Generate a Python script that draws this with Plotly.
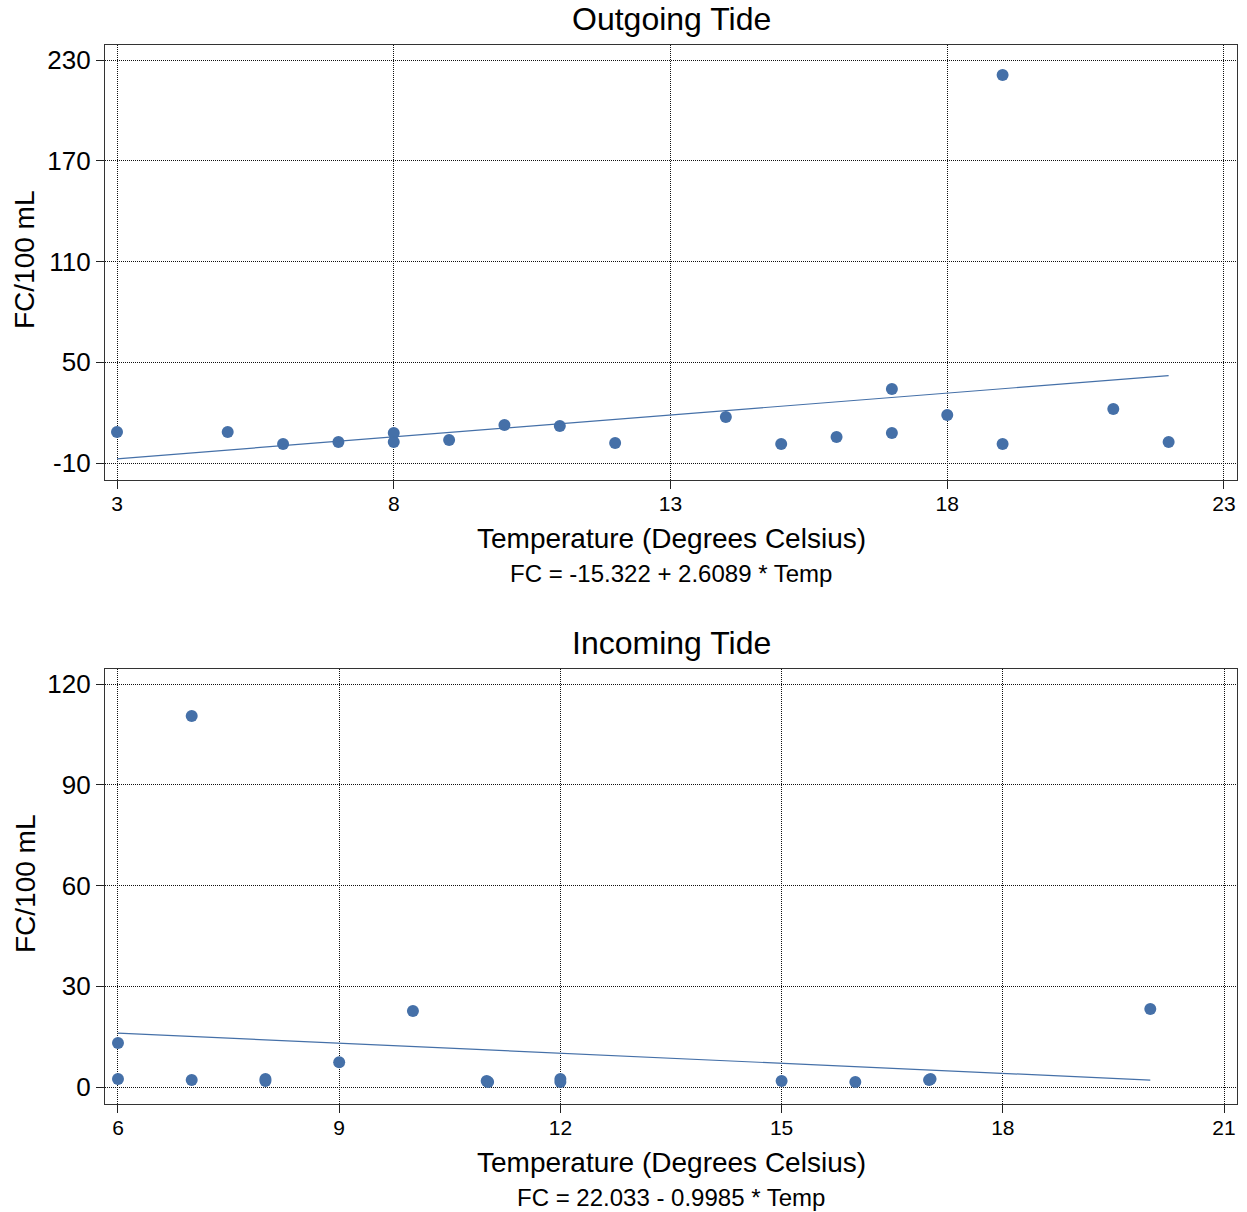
import plotly.graph_objects as go

# ---- Data ----
out_temp = [3, 5, 6, 7, 8, 8, 9, 10, 11, 12, 14, 15, 16, 17, 17, 18, 19, 19, 21, 22]
out_fc = [8.5, 8.5, 1.3, 2.5, 7.9, 2.5, 3.7, 12.6, 12.0, 1.9, 17.4, 1.3, 5.5, 34.1, 7.9, 18.6, 221, 1.3, 22.2, 2.5]
out_coef = (-15.322, 2.6089)
out_eq = "FC = -15.322 + 2.6089 * Temp"

in_temp = [6, 6, 7, 7, 8, 8, 9, 10, 11, 11.02, 12, 12, 15, 16, 17, 17.02, 20]
in_fc = [13.1, 2.4, 2.1, 110.5, 2.4, 1.8, 7.4, 22.6, 1.8, 1.5, 2.4, 1.5, 1.8, 1.5, 2.1, 2.4, 23.2]
in_coef = (22.033, -0.9985)
in_eq = "FC = 22.033 - 0.9985 * Temp"

out_xticks = [3, 8, 13, 18, 23]
out_yticks = [-10, 50, 110, 170, 230]
in_xticks = [6, 9, 12, 15, 18, 21]
in_yticks = [0, 30, 60, 90, 120]

titles = ["Outgoing Tide", "Incoming Tide"]
x_title = "Temperature (Degrees Celsius)"
y_title = "FC/100 mL"

COLOR = "#4570A8"
FONT = "Liberation Sans, Arial, sans-serif"

W, H = 1247, 1212
ML, MR, MT, MB = 105, 10, 45, 108
PW = W - ML - MR
PH = H - MT - MB


def py(pix):
    return (H - MB - pix) / PH


def px(pix):
    return (pix - ML) / PW


fig = go.Figure()

fig.add_trace(go.Scatter(x=out_temp, y=out_fc, mode="markers", xaxis="x", yaxis="y",
                         marker=dict(color=COLOR, size=12), showlegend=False))
fig.add_trace(go.Scatter(x=in_temp, y=in_fc, mode="markers", xaxis="x2", yaxis="y2",
                         marker=dict(color=COLOR, size=12), showlegend=False))

for temps, coef, xa, ya in [(out_temp, out_coef, "x", "y"), (in_temp, in_coef, "x2", "y2")]:
    xs = [min(temps), max(temps)]
    ys = [coef[0] + coef[1] * v for v in xs]
    fig.add_trace(go.Scatter(x=xs, y=ys, mode="lines", xaxis=xa, yaxis=ya,
                             line=dict(color=COLOR, width=1.2), showlegend=False))

axis_common = dict(
    showgrid=True, gridcolor="#111111", griddash="1px,1px", gridwidth=1,
    zeroline=False, showline=True, linecolor="#333333", linewidth=1.3, mirror=True,
    ticks="outside", ticklen=8, tickcolor="#222222", tickwidth=1, tickmode="array",
)


def labels(vals):
    return [str(v) for v in vals]


top_dom = [py(480), py(45)]
bot_dom = [py(1104), py(669)]

fig.update_layout(
    width=W, height=H,
    margin=dict(l=ML, r=MR, t=MT, b=MB),
    paper_bgcolor="white", plot_bgcolor="white",
    font=dict(family=FONT, color="black"),
    xaxis=dict(domain=[0, 1], anchor="y", range=[2.783, 23.235],
               tickvals=out_xticks, ticktext=labels(out_xticks), ticklabelstandoff=-3,
               tickfont=dict(size=21), **axis_common),
    yaxis=dict(domain=top_dom, anchor="x", range=[-20.12, 238.93],
               tickvals=out_yticks, ticktext=labels(out_yticks),
               tickfont=dict(size=26), **axis_common),
    xaxis2=dict(domain=[0, 1], anchor="y2", range=[5.824, 21.176],
                tickvals=in_xticks, ticktext=labels(in_xticks), ticklabelstandoff=-3,
                tickfont=dict(size=21), **axis_common),
    yaxis2=dict(domain=bot_dom, anchor="x2", range=[-5.06, 124.47],
                tickvals=in_yticks, ticktext=labels(in_yticks),
                tickfont=dict(size=26), **axis_common),
)

ann = []
cx = px(671)
for i, (ttl, eq) in enumerate([(titles[0], out_eq), (titles[1], in_eq)]):
    off = 0 if i == 0 else 624
    ann.append(dict(text=ttl, x=cx, y=py(19 + off), xref="paper", yref="paper",
                    showarrow=False, xanchor="center", yanchor="middle", font=dict(size=32)))
    ann.append(dict(text=x_title, x=cx, y=py(538 + off), xref="paper", yref="paper",
                    showarrow=False, xanchor="center", yanchor="middle", font=dict(size=28)))
    ann.append(dict(text=eq, x=cx, y=py(573 + off), xref="paper", yref="paper",
                    showarrow=False, xanchor="center", yanchor="middle", font=dict(size=24)))
    ann.append(dict(text=y_title, x=px(25), y=py(260 + off), xref="paper", yref="paper",
                    showarrow=False, xanchor="center", yanchor="middle", textangle=-90,
                    font=dict(size=28)))
fig.update_layout(annotations=ann)

fig.write_html("out.html")
